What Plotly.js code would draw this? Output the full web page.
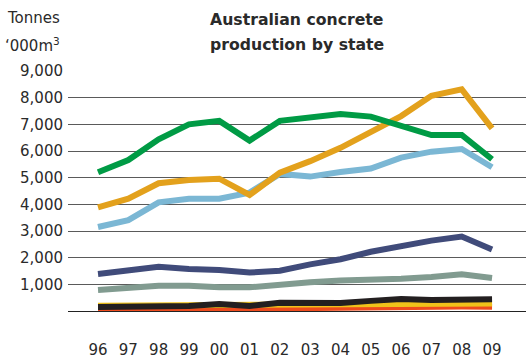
<!DOCTYPE html>
<html>
<head>
<meta charset="utf-8">
<script src="https://cdn.plot.ly/plotly-3.0.1.min.js"></script>
<style>
  html, body { margin: 0; padding: 0; background: #fff; }
  #chart { width: 526px; height: 360px; }
</style>
</head>
<body>
<div id="chart"></div>
<script>
// Financial years (two-digit labels)
const years = ['96','97','98','99','00','01','02','03','04','05','06','07','08','09'];

// Production, thousand cubic metres
const seriesGreen  = [5200, 5660, 6440, 7000, 7130, 6390, 7130, 7250, 7390, 7290, 6940, 6600, 6600, 5690];
const seriesOrange = [3890, 4210, 4790, 4910, 4960, 4350, 5190, 5620, 6120, 6700, 7310, 8070, 8310, 6850];
const seriesBlue   = [3150, 3410, 4075, 4210, 4210, 4440, 5140, 5040, 5210, 5340, 5750, 5975, 6075, 5390];
const seriesNavy   = [1390, 1510, 1660, 1575, 1540, 1440, 1510, 1750, 1940, 2220, 2450, 2640, 2790, 2310];
const seriesSage   = [790, 890, 950, 950, 890, 890, 1000, 1075, 1140, 1160, 1210, 1275, 1375, 1240];
const seriesRed    = [50, 50, 50, 60, 80, 80, 100, 110, 130, 160, 150, 170, 170, 160];
const seriesYellow = [200, 210, 210, 210, 220, 200, 230, 240, 250, 260, 280, 280, 280, 280];
const seriesBlack  = [150, 150, 150, 190, 260, 190, 310, 300, 300, 380, 450, 410, 440, 440];

const yTicks = [1000, 2000, 3000, 4000, 5000, 6000, 7000, 8000, 9000];
const yTickText = ['1,000', '2,000', '3,000', '4,000', '5,000', '6,000', '7,000', '8,000', '9,000'];

const FONT = 'DejaVu Sans, Verdana, sans-serif';
const INK = '#2a2a2a';

// Plot-area geometry in pixels
const L = 68, R = 0, T = 71, B = 49, W = 526, H = 360;
const pw = W - L - R, ph = H - T - B;
const px = x => (x - L) / pw;
const py = y => (H - B - y) / ph;

const idx = years.map((_, i) => i);
function line(values, color) {
  return {
    x: idx, y: values, type: 'scatter', mode: 'lines',
    line: { color: color, width: 6, shape: 'linear' },
    hoverinfo: 'skip', showlegend: false
  };
}

const data = [
  line(seriesRed,    '#ee4b1d'),
  line(seriesYellow, '#f0c21a'),
  line(seriesBlack,  '#231f20'),
  line(seriesSage,   '#819b90'),
  line(seriesNavy,   '#404b7a'),
  line(seriesBlue,   '#7bb7d4'),
  line(seriesOrange, '#e3a11c'),
  line(seriesGreen,  '#009b45')
];

const layout = {
  width: W, height: H,
  margin: { l: L, r: R, t: T, b: B, pad: 0 },
  paper_bgcolor: '#fff', plot_bgcolor: '#fff',
  font: { family: FONT, size: 15, color: INK },
  xaxis: {
    range: [-0.99, 14.12],
    tickmode: 'array', tickvals: idx, ticktext: years,
    ticks: '', showgrid: false, zeroline: false, showline: false,
    ticklabelstandoff: 28,
    tickfont: { family: FONT, size: 15, color: INK },
    fixedrange: true
  },
  yaxis: {
    range: [0, 9000],
    tickmode: 'array', tickvals: yTicks, ticktext: yTickText,
    ticks: '', showgrid: true, gridcolor: '#5a5a5a', gridwidth: 1,
    zeroline: true, zerolinecolor: '#222', zerolinewidth: 1,
    showline: false,
    ticklabelstandoff: 4,
    tickfont: { family: FONT, size: 15, color: INK },
    fixedrange: true
  },
  annotations: [
    { text: 'Tonnes', xref: 'paper', yref: 'paper', x: px(62), y: py(18),
      xanchor: 'right', yanchor: 'middle', showarrow: false,
      font: { family: FONT, size: 15, color: INK } },
    { text: '‘000m<sup>3</sup>', xref: 'paper', yref: 'paper', x: px(62), y: py(45),
      xanchor: 'right', yanchor: 'middle', showarrow: false,
      font: { family: FONT, size: 15, color: INK } },
    { text: '<b>Australian concrete</b>', xref: 'paper', yref: 'paper', x: px(297), y: py(19),
      xanchor: 'center', yanchor: 'middle', showarrow: false,
      font: { family: FONT, size: 15.7, color: INK } },
    { text: '<b>production by state</b>', xref: 'paper', yref: 'paper', x: px(297), y: py(45),
      xanchor: 'center', yanchor: 'middle', showarrow: false,
      font: { family: FONT, size: 15.7, color: INK } }
  ]
};

Plotly.newPlot('chart', data, layout, { displayModeBar: false, staticPlot: true });
</script>
</body>
</html>
